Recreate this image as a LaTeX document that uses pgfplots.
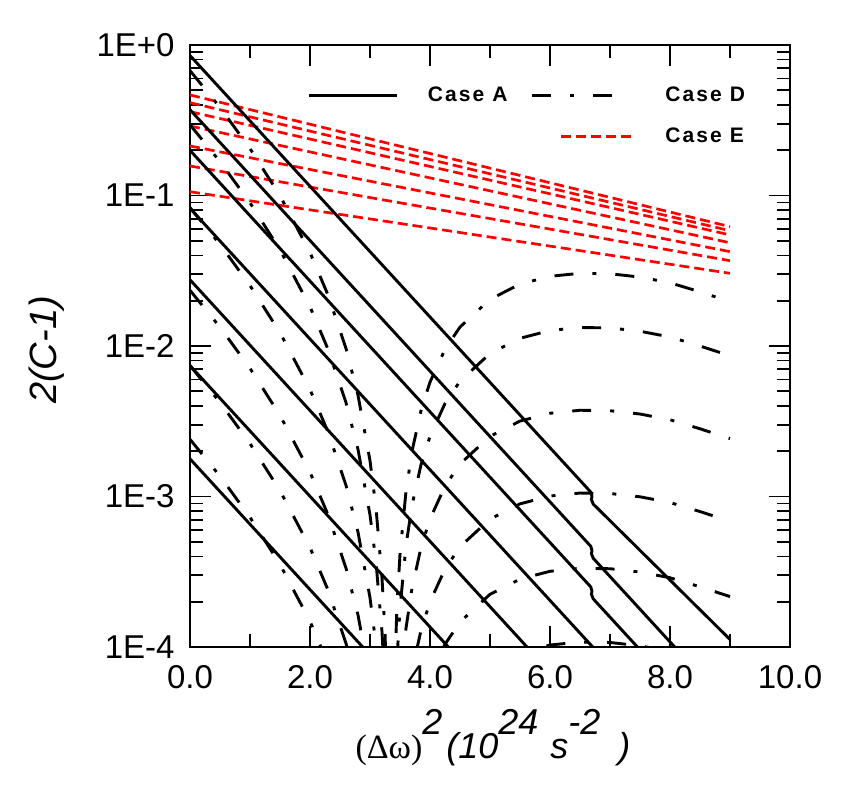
\documentclass[border=0pt]{standalone}
\usepackage{fontspec}
\setmainfont{Liberation Sans}
\usepackage{pgfplots}
\pgfplotsset{compat=1.18}
\font\dwfont="Liberation Serif" at 17pt
\tikzset{
  caseA/.style={black, line width=1.45pt},
  caseD/.style={black, line width=1.45pt, dash pattern=on 9.5pt off 9.5pt on 2pt off 9.5pt},
  caseE/.style={red, line width=1.35pt, dash pattern=on 5pt off 2.5pt},
}
\pgfplotsset{
  legimgA/.style={legend image code/.code={\draw[##1] (0pt,0pt) -- (44pt,0pt);}},
  legimgD/.style={legend image code/.code={\draw[##1] (0pt,0pt) -- (40pt,0pt); \path (51.5pt,0pt);}},
  legimgE/.style={legend image code/.code={\draw[##1] (14.5pt,0pt) -- (49.5pt,0pt); \path (51.5pt,0pt);}},
}
\newcommand{\dw}{{\dwfont(Δω)}}
\newcommand{\restlabel}{{\fontsize{18}{18}\selectfont\itshape\raisebox{12pt}{2}\hspace{2pt}(10\raisebox{12pt}{24}\hspace{6pt}s\raisebox{12pt}{-2}\hspace{9pt})}}
\begin{document}
\begin{tikzpicture}
\path[use as bounding box] (-95pt,-72.5pt) rectangle (334.5pt,323.5pt);
\begin{axis}[
  at={(0pt,0pt)}, anchor=south west,
  scale only axis, width=300pt, height=301pt,
  xmin=0, xmax=10, ymin=-4, ymax=0,
  xtick={0,2,4,6,8,10}, xticklabels={0.0,2.0,4.0,6.0,8.0,10.0},
  minor xtick={1,3,5,7,9},
  ytick={-4,-3,-2,-1,0}, yticklabels={1E-4,1E-3,1E-2,1E-1,1E+0},
  minor ytick={-3.699,-3.523,-3.398,-3.301,-3.222,-3.155,-3.097,-3.046,-2.699,-2.523,-2.398,-2.301,-2.222,-2.155,-2.097,-2.046,-1.699,-1.523,-1.398,-1.301,-1.222,-1.155,-1.097,-1.046,-0.699,-0.523,-0.398,-0.301,-0.222,-0.155,-0.097,-0.046},
  tick pos=both, tick align=inside,
  major tick length=10.5pt, minor tick length=6.5pt,
  tick style={black, line width=0.85pt},
  axis line style={black, line width=0.9pt},
  tick label style={font=\fontsize{16.5}{16.5}\selectfont},
  xticklabel style={inner sep=0pt, yshift=-9pt},
  yticklabel style={inner sep=0pt, xshift=-7.5pt},
  xlabel={\dw\restlabel},
  ylabel={2(C-1)},
  xlabel style={at={(axis description cs:0.505,-0.1844)}, anchor=base, font=\fontsize{16}{16}\selectfont},
  ylabel style={at={(axis description cs:-0.2383,0.4934)}, anchor=center, font=\fontsize{19}{19}\selectfont\itshape},
  legend columns=2,
  legend cell align=left,
  legend style={at={(axis cs:1.967,-0.4718)}, anchor=west, draw=none, fill=none,
    inner sep=0pt, outer sep=0pt,
    font=\fontsize{10.5}{10.5}\selectfont\bfseries\addfontfeature{LetterSpace=10},
    nodes={inner sep=0pt}, row sep=11.5pt,
    /tikz/every odd column/.append style={column sep=14.5pt},
    /tikz/every even column/.append style={column sep=11.5pt}},
]
\addlegendimage{caseA, legimgA}
\addlegendentry{Case A}
\addlegendimage{caseD, legimgD}
\addlegendentry{Case D}
\addlegendimage{empty legend}
\addlegendentry{}
\addlegendimage{caseE, legimgE}
\addlegendentry{Case E}

% Case E (red dashed)
\addplot[caseE, forget plot] coordinates {(0,-0.332) (9,-1.207)};
\addplot[caseE, forget plot] coordinates {(0,-0.383) (9,-1.234)};
\addplot[caseE, forget plot] coordinates {(0,-0.443) (9,-1.262)};
\addplot[caseE, forget plot] coordinates {(0,-0.538) (9,-1.314)};
\addplot[caseE, forget plot] coordinates {(0,-0.671) (9,-1.373)};
\addplot[caseE, forget plot] coordinates {(0,-0.804) (9,-1.433)};
\addplot[caseE, forget plot] coordinates {(0,-0.975) (9,-1.517)};

% Case D (dash-dot), left and right branches
\addplot[caseD, forget plot] coordinates {(0,-0.17) (0.5,-0.415) (1.0,-0.688) (1.5,-1.001) (2.0,-1.379) (2.3,-1.661) (2.6,-2.016) (2.8,-2.327) (3.0,-2.762) (3.1,-3.075) (3.2,-3.540) (3.25,-3.903) (3.3,-4.515)};
\addplot[caseD, forget plot] coordinates {(3.4,-4.312) (3.45,-3.723) (3.5,-3.384) (3.6,-2.966) (3.7,-2.700) (3.85,-2.429) (4.0,-2.240) (4.25,-2.022) (4.5,-1.874) (5.0,-1.690) (5.5,-1.589) (6.0,-1.537) (6.5,-1.517) (7.0,-1.520) (7.5,-1.542) (8.0,-1.580) (8.5,-1.640) (9.0,-1.705)};
\addplot[caseD, forget plot] coordinates {(0,-0.53) (0.5,-0.775) (1.0,-1.048) (1.5,-1.361) (2.0,-1.739) (2.3,-2.021) (2.6,-2.376) (2.8,-2.687) (3.0,-3.122) (3.1,-3.435) (3.2,-3.900) (3.25,-4.263)};
\addplot[caseD, forget plot] coordinates {(3.45,-4.083) (3.5,-3.744) (3.6,-3.326) (3.7,-3.060) (3.85,-2.789) (4.0,-2.600) (4.25,-2.382) (4.5,-2.234) (5.0,-2.050) (5.5,-1.949) (6.0,-1.897) (6.5,-1.877) (7.0,-1.880) (7.5,-1.902) (8.0,-1.940) (8.5,-2.000) (9.0,-2.065)};
\addplot[caseD, forget plot] coordinates {(0,-1.08) (0.5,-1.325) (1.0,-1.598) (1.5,-1.911) (2.0,-2.289) (2.3,-2.571) (2.6,-2.926) (2.8,-3.237) (3.0,-3.672) (3.1,-3.985) (3.2,-4.450)};
\addplot[caseD, forget plot] coordinates {(3.5,-4.294) (3.6,-3.876) (3.7,-3.610) (3.85,-3.339) (4.0,-3.150) (4.25,-2.932) (4.5,-2.784) (5.0,-2.600) (5.5,-2.499) (6.0,-2.447) (6.5,-2.427) (7.0,-2.430) (7.5,-2.452) (8.0,-2.490) (8.5,-2.550) (9.0,-2.615)};
\addplot[caseD, forget plot] coordinates {(0,-1.63) (0.5,-1.875) (1.0,-2.148) (1.5,-2.461) (2.0,-2.839) (2.3,-3.121) (2.6,-3.476) (2.8,-3.787) (3.0,-4.222)};
\addplot[caseD, forget plot] coordinates {(3.6,-4.426) (3.7,-4.160) (3.85,-3.889) (4.0,-3.700) (4.25,-3.482) (4.5,-3.334) (5.0,-3.150) (5.5,-3.049) (6.0,-2.997) (6.5,-2.977) (7.0,-2.980) (7.5,-3.002) (8.0,-3.040) (8.5,-3.100) (9.0,-3.165)};
\addplot[caseD, forget plot] coordinates {(0,-2.13) (0.5,-2.375) (1.0,-2.648) (1.5,-2.961) (2.0,-3.339) (2.3,-3.621) (2.6,-3.976) (2.8,-4.287)};
\addplot[caseD, forget plot] coordinates {(3.85,-4.389) (4.0,-4.200) (4.25,-3.982) (4.5,-3.834) (5.0,-3.650) (5.5,-3.549) (6.0,-3.497) (6.5,-3.477) (7.0,-3.480) (7.5,-3.502) (8.0,-3.540) (8.5,-3.600) (9.0,-3.665)};
\addplot[caseD, forget plot] coordinates {(0,-2.62) (0.5,-2.865) (1.0,-3.138) (1.5,-3.451) (2.0,-3.829) (2.3,-4.111)};
\addplot[caseD, forget plot] coordinates {(5.0,-4.140) (5.5,-4.039) (6.0,-3.987) (6.5,-3.967) (7.0,-3.970) (7.5,-3.992) (8.0,-4.030) (8.5,-4.090)};

% Case A (solid)
\addplot[caseA, forget plot] coordinates {(0,-0.07) (6.68,-2.971) (6.70,-3.00) (6.69,-3.02) (6.72,-3.05) (9.0,-3.95)};
\addplot[caseA, forget plot] coordinates {(0,-0.43) (6.68,-3.331) (6.70,-3.36) (6.69,-3.38) (6.72,-3.41) (8.2,-4.053)};
\addplot[caseA, forget plot] coordinates {(0,-0.70) (6.68,-3.601) (6.70,-3.63) (6.69,-3.65) (6.72,-3.68) (7.6,-4.062)};
\addplot[caseA, forget plot] coordinates {(0,-1.085) (6.8,-4.038)};
\addplot[caseA, forget plot] coordinates {(0,-1.56) (5.7,-4.036)};
\addplot[caseA, forget plot] coordinates {(0,-2.13) (4.4,-4.041)};
\addplot[caseA, forget plot] coordinates {(0,-2.75) (2.95,-4.031)};
\end{axis}
\end{tikzpicture}
\end{document}
